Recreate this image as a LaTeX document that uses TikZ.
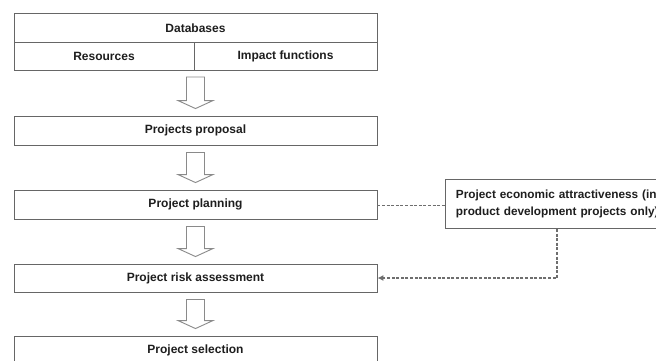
\documentclass[tikz,border=0pt]{standalone}
\usepackage{fontspec}
\setmainfont{Liberation Sans}
\usetikzlibrary{calc,arrows.meta}
\definecolor{boxline}{HTML}{666666}
\definecolor{arrowline}{HTML}{8A8A8A}
\definecolor{dashline}{HTML}{6E6E6E}
\definecolor{txt}{HTML}{1E1E1E}
\tikzset{
  stagebox/.style={draw=boxline, line width=0.9pt, rectangle, inner sep=0pt,
    minimum height=29pt, text=txt, font=\bfseries\fontsize{12}{14}\selectfont},
  blockarrow/.style={draw=arrowline, line width=0.9pt, fill=white, line join=miter},
  linkline/.style={draw=dashline, line width=1.6pt, dash pattern=on 3pt off 1.6pt},
}
% hollow down-pointing block arrow between two stacked boxes
\newcommand\flowdown[2]{%
  \path[blockarrow] let \p1=(#1.south), \p2=(#2.north) in
    (\x1-9pt,\y1-7pt) -- (\x1+9pt,\y1-7pt) -- (\x1+9pt,\y2+15pt)
    -- (\x1+17.5pt,\y2+15pt) -- (\x1,\y2+7pt) -- (\x1-17.5pt,\y2+15pt)
    -- (\x1-9pt,\y2+15pt) -- cycle;}
\begin{document}
\begin{tikzpicture}[x=1pt,y=-1pt]
\useasboundingbox (0,0) rectangle (656,360);
\clip (0,0) rectangle (656,360);
\fill[white] (0,0) rectangle (656,360);

% database header and its two parts
\node[stagebox, minimum width=363pt, minimum height=28.5pt] (db) at (195.5,27.75) {Databases};
\node[stagebox, minimum width=180pt, minimum height=28pt] (res) at (104,56) {Resources};
\node[stagebox, minimum width=183pt, minimum height=28pt] (imp) at (285.5,56) {Impact functions};
\coordinate (dbbottom) at (195.5,70);

% process stages
\node[stagebox, minimum width=363pt] (prop) at (195.5,130.5) {Projects proposal};
\node[stagebox, minimum width=363pt] (plan) at (195.5,204.5) {Project planning};
\node[stagebox, minimum width=363pt, minimum height=28pt] (risk) at (195.5,278) {Project risk assessment};
\node[stagebox, minimum width=363pt] (sel) at (195.5,350.5) {Project selection};

% side input
\node[stagebox, anchor=north west, minimum height=49pt, text width=240pt,
  inner xsep=10.5pt, align=left, font=\bfseries\fontsize{11.8}{17.5}\selectfont] (econ) at (445,179)
  {Project economic attractiveness (in\\product development projects only)};

% stage-to-stage arrows
\flowdown{dbbottom}{prop}
\flowdown{prop}{plan}
\flowdown{plan}{risk}
\flowdown{risk}{sel}

% dashed links to the side input
\coordinate (planout) at ($(plan.east)+(0,-1pt)$);
\coordinate (tap) at ($(econ.south west)+(112pt,0)$);
\draw[linkline] (planout) -- (planout -| econ.west);
\draw[linkline, -{Latex[length=6pt,width=6pt]}] (tap) |- (risk.east);
\end{tikzpicture}
\end{document}
